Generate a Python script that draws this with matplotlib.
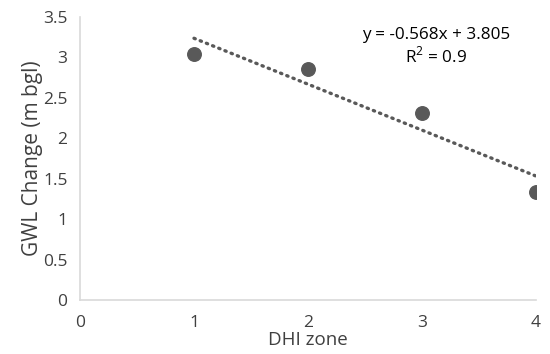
import numpy as np
import matplotlib
matplotlib.use('Agg')
import matplotlib.pyplot as plt

## data
dhi_zone = [1, 2, 3, 4]
gwl_change = [3.04, 2.86, 2.31, 1.33]
slope = -0.568
intercept = 3.805
eq_text = 'y = -0.568x + 3.805'
r2_text = 'R$^2$ = 0.9'
x_ticks = [0, 1, 2, 3, 4]
y_ticks = [0, 0.5, 1, 1.5, 2, 2.5, 3, 3.5]

plt.rcParams['font.family'] = ['Open Sans', 'DejaVu Sans']
plt.rcParams['mathtext.fontset'] = 'custom'
plt.rcParams['mathtext.rm'] = 'Open Sans'

fig = plt.figure(figsize=(5.5, 3.54), dpi=100)
ax = fig.add_axes([80/550, 54/354, 456/550, 283/354])

ax.scatter(dhi_zone, gwl_change, s=95, color='#595959', zorder=3)

# linear trendline over the data range
xs = np.array([min(dhi_zone), max(dhi_zone)])
ax.plot(xs, slope * xs + intercept, linestyle=(0, (0.4, 1.6)), color='#595959',
        linewidth=2.4, dash_capstyle='round')

ax.set_xlim(0, 4)
ax.set_ylim(0, 3.5)
ax.set_xticks(x_ticks)
ax.set_yticks(y_ticks)
ax.set_xticklabels([str(t) for t in x_ticks])
ax.set_yticklabels(['0', '0.5', '1', '1.5', '2', '2.5', '3', '3.5'])
ax.tick_params(length=0, labelsize=12.5, labelcolor='#404040')
ax.tick_params(axis='x', pad=11)
ax.tick_params(axis='y', pad=9)

for s in ['top', 'right']:
    ax.spines[s].set_visible(False)
for s in ['left', 'bottom']:
    ax.spines[s].set_color('#d9d9d9')
    ax.spines[s].set_linewidth(1.2)

ax.set_xlabel('DHI zone', fontsize=13.5, color='#404040', labelpad=0)
ax.set_ylabel('GWL Change (m bgl)', fontsize=15, color='#404040', labelpad=0)

ax.text(0.78, 0.936, eq_text, transform=ax.transAxes, ha='center', va='center',
        fontsize=12.3, color='black')
ax.text(0.78, 0.862, r2_text, transform=ax.transAxes, ha='center', va='center',
        fontsize=12.3, color='black')

plt.savefig('out.png', dpi=100)
